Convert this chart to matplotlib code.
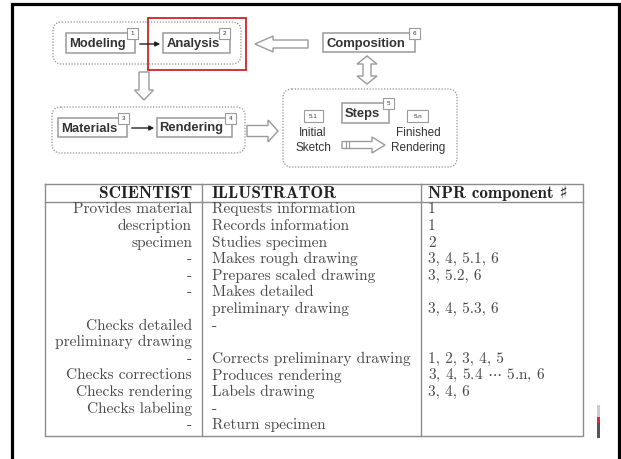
import matplotlib.pyplot as plt
import matplotlib.patches as mpatches

plt.rcParams['mathtext.fontset'] = 'cm'

# --- diagram content ---
stages = ['Modeling', 'Analysis', 'Materials', 'Rendering', 'Composition', 'Steps']
stage_ids = ['1', '2', '3', '4', '6', '5']
step_ids = ['5.1', '5.n']
step_labels = ['Initial\nSketch', 'Finished\nRendering']

# --- table content ---
headers = ['SCIENTIST', 'ILLUSTRATOR', 'NPR component \u266f']
scientist = ['Provides material', 'description', 'specimen', '-', '-', '-', '',
             'Checks detailed', 'preliminary drawing', '-', 'Checks corrections',
             'Checks rendering', 'Checks labeling', '-']
illustrator = ['Requests information', 'Records information', 'Studies specimen',
               'Makes rough drawing', 'Prepares scaled drawing', 'Makes detailed',
               'preliminary drawing', '-', '', 'Corrects preliminary drawing',
               'Produces rendering', 'Labels drawing', '-', 'Return specimen']
npr = ['1', '1', '2', '3, 4, 5.1, 6', '3, 5.2, 6', '', '3, 4, 5.3, 6', '', '',
       '1, 2, 3, 4, 5', r'3, 4, 5.4 $\cdots$ 5.n, 6', '3, 4, 6', '', '']

W, H = 621, 459
fig = plt.figure(figsize=(W / 100, H / 100), dpi=100)
ax = fig.add_axes([0, 0, 1, 1])
ax.set_xlim(0, W)
ax.set_ylim(H, 0)
ax.axis('off')

GRAY = '#9a9a9a'
TXT = '#333333'
SANS = 'Liberation Sans'


def dotted_box(x0, y0, x1, y1):
    ax.add_patch(mpatches.FancyBboxPatch((x0, y0), x1 - x0, y1 - y0,
                                         boxstyle='round,pad=0,rounding_size=9',
                                         fc='none', ec='#909090', lw=0.9,
                                         ls=(0, (1, 1.3))))


def num_box(x0, y0, w, h, s):
    ax.add_patch(mpatches.Rectangle((x0, y0), w, h, fc='white', ec=GRAY, lw=0.8, zorder=3))
    ax.text(x0 + w / 2, y0 + h / 2, s, fontsize=4.5, ha='center', va='center',
            color=TXT, family=SANS, zorder=4)


def stage_box(x0, y0, x1, y1, name, idx, nx):
    ax.add_patch(mpatches.Rectangle((x0, y0), x1 - x0, y1 - y0, fc='white', ec=GRAY, lw=1.1))
    ax.text((x0 + x1) / 2 - 3, (y0 + y1) / 2 + 1, name, fontsize=9.4, fontweight='bold',
            ha='center', va='center', color=TXT, family=SANS)
    num_box(nx, y0 - 5, 11, 11, idx)


def hollow_arrow(x, y, dx, dy, w, hw, hl):
    ax.add_patch(mpatches.FancyArrow(x, y, dx, dy, width=w, head_width=hw, head_length=hl,
                                     length_includes_head=True, fc='white', ec=GRAY, lw=1))


# dotted groups
dotted_box(53, 22, 241, 64)
dotted_box(52, 107, 245, 153)
dotted_box(283, 89, 457, 167)

# stage boxes
stage_box(66, 33, 135, 53, stages[0], stage_ids[0], 127)
stage_box(163, 33, 230, 53, stages[1], stage_ids[1], 219)
stage_box(58, 118, 127, 137, stages[2], stage_ids[2], 118)
stage_box(157, 118, 232, 137, stages[3], stage_ids[3], 225)
stage_box(323, 33, 415, 52, stages[4], stage_ids[4], 409)
stage_box(342, 103, 389, 123, stages[5], stage_ids[5], 383)

# solid connector arrows
ax.annotate('', xy=(163, 44), xytext=(137, 44),
            arrowprops=dict(arrowstyle='-|>', color='#222222', lw=1, mutation_scale=7))
ax.annotate('', xy=(157, 128), xytext=(129, 128),
            arrowprops=dict(arrowstyle='-|>', color='#222222', lw=1, mutation_scale=7))

# hollow arrows
hollow_arrow(308, 44, -53, 0, 8, 16, 18)
hollow_arrow(144, 72, 0, 28, 10, 19, 10)
hollow_arrow(247, 131, 31, 0, 11, 22, 10)
hollow_arrow(342, 145, 43, 0, 7, 16, 13)
ax.plot([346, 346], [142, 148], color=GRAY, lw=0.8)
ax.plot([349, 349], [142, 148], color=GRAY, lw=0.8)
# double vertical arrow
xc, ya, yb = 367, 56, 84
pts = [(xc, ya), (xc + 10, ya + 8), (xc + 4, ya + 8), (xc + 4, yb - 8), (xc + 10, yb - 8),
       (xc, yb), (xc - 10, yb - 8), (xc - 4, yb - 8), (xc - 4, ya + 8), (xc - 10, ya + 8)]
ax.add_patch(mpatches.Polygon(pts, closed=True, fc='white', ec=GRAY, lw=1))

# step sub-labels
num_box(304, 110, 19, 12, step_ids[0])
num_box(407, 110, 21, 12, step_ids[1])
ax.text(313, 140.5, step_labels[0], fontsize=8.5, ha='center', va='center',
        color=TXT, family=SANS, linespacing=1.25)
ax.text(418, 140.5, step_labels[1], fontsize=8.5, ha='center', va='center',
        color=TXT, family=SANS, linespacing=1.25)

# highlight
ax.add_patch(mpatches.Rectangle((148, 18), 98, 52, fc='none', ec='#cc1111', lw=1.2))

# table frame
TL = '#8c8c8c'
x_left, x_c1, x_c2, x_right = 45, 202, 421, 583
y_top, y_head, y_bot = 184, 202, 436
ax.plot([x_left, x_right, x_right, x_left, x_left], [y_top, y_top, y_bot, y_bot, y_top],
        color=TL, lw=1)
ax.plot([x_left, x_right], [y_head, y_head], color=TL, lw=1)
ax.plot([x_c1, x_c1], [y_top, y_bot], color=TL, lw=1)
ax.plot([x_c2, x_c2], [y_top, y_bot], color=TL, lw=1)

SERIF = ['cmr10', 'DejaVu Serif']
BOLD = ['cmb10', 'DejaVu Serif']
TCOL = '#4a4a4a'
FS = 11.1
HFS = 12.3
ax.text(x_c1 - 10, 193, headers[0], fontsize=HFS, family=BOLD, ha='right', va='center', color='#222222')
ax.text(x_c1 + 10, 193, headers[1], fontsize=HFS, family=BOLD, ha='left', va='center', color='#222222')
ax.text(x_c2 + 7, 193, headers[2], fontsize=HFS, family=BOLD, ha='left', va='center', color='#222222')

y0, dy = 209.5, 16.6
for i in range(len(scientist)):
    y = y0 + i * dy
    ax.text(x_c1 - 10, y, scientist[i], fontsize=FS, family=SERIF, ha='right', va='center', color=TCOL)
    ax.text(x_c1 + 10, y, illustrator[i], fontsize=FS, family=SERIF, ha='left', va='center', color=TCOL)
    ax.text(x_c2 + 7, y, npr[i], fontsize=FS, family=SERIF, ha='left', va='center', color=TCOL)

# small mark near bottom right
ax.add_patch(mpatches.Rectangle((597, 405), 3, 12, fc='#c8ccd8', ec='none'))
ax.add_patch(mpatches.Rectangle((597, 417), 3, 6, fc='#d43030', ec='none'))
ax.add_patch(mpatches.Rectangle((597, 423), 3, 15, fc='#555555', ec='none'))

# outer black frame
ax.plot([12, 12, 619, 619], [H, 4, 4, H], color='black', lw=2.3, solid_joinstyle='miter')

fig.savefig('out.png', dpi=100)
